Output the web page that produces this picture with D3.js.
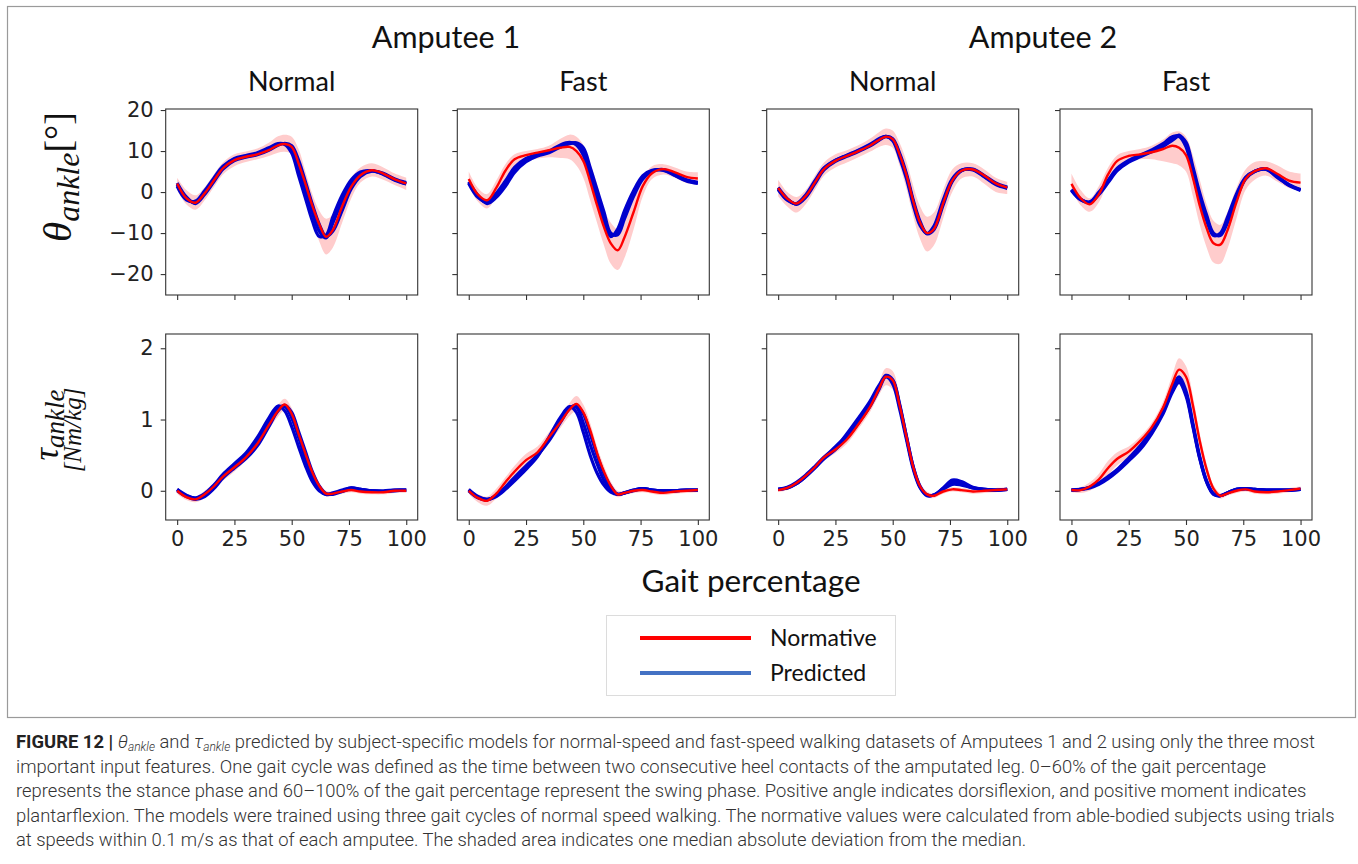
<!DOCTYPE html>
<html><head><meta charset="utf-8">
<script src="https://cdn.jsdelivr.net/npm/d3@7"></script>
<style>body{margin:0;background:#fff}svg{display:block}</style>
</head><body>
<svg id="c" width="1358" height="864"></svg>
<script>
// ---------- DATA ----------
const gait = [0,4,8,12,16,20,25,30,35,40,44,47,50,53,56,59,62,65,68,72,76,80,85,90,95,100];
const amputees = ["Amputee 1","Amputee 2"];
const speeds = ["Normal","Fast"];
const thetaTicks = [-20,-10,0,10,20];
const tauTicks = [0,1,2];
const gaitTicks = [0,25,50,75,100];
const legendLabels = ["Normative","Predicted"];

// Amputee 1, Normal, ankle angle
const th_A1N_norm = [2.1,-1.5,-2.6,-0.3,2.8,5.8,7.8,8.6,9.2,10.2,11.4,11.7,11.0,7.0,2.0,-3.3,-7.8,-10.9,-9.2,-3.5,1.3,4.1,5.3,4.5,3.1,2.1];
const th_A1N_hi   = [3.5,0.5,-0.8,1.2,4.3,7.2,9.2,9.9,10.6,12,13.6,14,13.5,10.5,5,-0.5,-4.5,-6.5,-5.5,-0.5,3.5,6,7,6,4.5,3.5];
const th_A1N_lo   = [0.5,-3,-4.3,-2,1.2,4.3,6.3,7.3,8,8.8,9.6,9.8,9.2,5,-1,-7,-12,-15.2,-13.5,-7.5,-1.5,2.3,3.8,3,1.7,0.5];
const th_A1N_p1   = [1.4,-1.9,-2.2,0.3,3.4,6.3,8.2,8.9,9.6,10.8,11.8,11.6,9.5,4.0,-1.5,-7,-10.8,-10.5,-6,-0.8,3.0,4.9,5.2,4.3,2.9,2.0];
const th_A1N_p2   = [1.8,-1.6,-2.5,-0.2,3.0,6.0,8.0,8.7,9.4,10.5,11.6,11.8,10.5,5.8,0.5,-5,-9.5,-11.2,-7.5,-2.2,2.2,4.5,5.2,4.4,3.0,2.0];
const th_A1N_p3   = [2.2,-1.2,-2.8,-0.6,2.5,5.6,7.7,8.5,9.1,10.2,11.4,11.9,11.3,7.8,2.5,-3,-7.8,-10.8,-9.5,-4.5,0.8,3.8,5.1,4.6,3.2,2.3];

// Amputee 1, Fast, ankle angle
const th_A1F_norm = [3.2,-0.6,-2.0,1.0,5.2,8.0,9.0,9.6,10.2,10.8,11.0,10.0,7.6,2.5,-3.2,-8.5,-12.5,-14.2,-11,-4.8,1.5,4.6,5.6,4.8,3.7,3.3];
const th_A1F_hi   = [5,1,-0.5,2.8,6.8,9.2,10,10.5,11.3,13,14,13.5,11.5,7,2,-4,-7.5,-9,-6.5,-1.5,3.5,6.3,6.8,6,5,4.8];
const th_A1F_lo   = [1.5,-2.3,-4,-1,3,6.2,7.5,8.2,8.5,8.3,8,6.5,3.5,-2,-7.5,-13,-17.5,-19,-16,-9,-1,3.2,4.3,3.5,2.2,1.8];
const th_A1F_p1   = [2.1,-1.3,-2.4,-0.3,2.7,6.0,8.2,9.2,10.0,11.5,12.1,11.5,9.0,3.8,-1.8,-7.3,-10.9,-9.0,-4.5,0.4,4.0,5.3,5.3,4.0,2.7,2.1];
const th_A1F_p2   = [2.3,-1.0,-2.6,-0.8,2.0,5.4,7.8,9.0,9.8,11.2,11.9,11.8,10.0,5.0,-0.5,-6.0,-10.6,-9.8,-5.5,-0.3,3.6,5.2,5.4,4.1,2.8,2.2];
const th_A1F_p3   = [2.5,-0.8,-2.8,-1.3,1.4,4.8,7.4,8.8,9.6,11.0,11.8,12.0,10.8,6.0,0.6,-4.8,-10.0,-10.4,-6.5,-1.0,3.2,5.0,5.5,4.3,3.0,2.4];

// Amputee 2, Normal, ankle angle
const th_A2N_norm = [1.0,-1.6,-2.8,-1.0,2.3,5.6,7.6,8.8,10.0,11.3,12.7,13.5,12.9,9.2,4.2,-2.3,-7.5,-10.0,-9.0,-2.8,2.8,5.2,5.5,4.0,2.1,1.1];
const th_A2N_hi   = [3,0,-1.2,0.5,4,7.2,9.2,10.2,11.4,13,14.6,15.5,15,12,7.5,1.5,-3.5,-6,-5,0.5,5.5,7,7,5.5,3.5,2.5];
const th_A2N_lo   = [-1,-3.5,-5,-3,0.5,4,6,7.2,8.5,9.8,11,11.5,10.8,6.5,0.8,-6,-11.5,-14.5,-13,-6.5,0,3.3,3.8,2,0,-0.5];
const th_A2N_p1   = [0.6,-2.0,-2.8,-0.7,2.7,5.9,7.8,9.0,10.2,11.6,13.0,13.6,12.5,8.4,3.3,-3.2,-8.2,-10.1,-8.3,-2.0,3.2,5.3,5.4,3.7,1.8,0.9];
const th_A2N_p2   = [0.8,-1.8,-2.9,-1.0,2.4,5.7,7.7,8.9,10.1,11.4,12.8,13.6,12.8,9.0,4.0,-2.5,-7.7,-10.1,-8.8,-2.6,2.9,5.3,5.5,3.8,2.0,1.0];
const th_A2N_p3   = [1.1,-1.6,-3.0,-1.3,2.0,5.4,7.5,8.7,9.9,11.2,12.6,13.5,13.0,9.5,4.5,-2.0,-7.2,-10.2,-9.2,-3.2,2.6,5.2,5.6,4.0,2.2,1.2];

// Amputee 2, Fast, ankle angle
const th_A2F_norm = [2.0,-1.5,-3.0,-0.5,4.3,7.6,8.8,9.2,9.7,10.5,11.3,10.8,9.0,3.5,-3.3,-8.8,-12.5,-12.8,-9.5,-2.5,3.2,5.1,5.8,4.4,2.8,2.3];
const th_A2F_hi   = [4.5,0.5,-1.5,1.5,6,9,10,10.5,11.3,12.8,14.5,14.8,13.5,9,3,-3,-7,-8,-5,1,5.5,7.3,7.5,6.5,5,4.5];
const th_A2F_lo   = [0.5,-3.2,-4.8,-2.5,2.5,6,7.5,8,8,7.5,7,6.5,5,-1,-8,-13.5,-17.2,-17.5,-14,-6.5,0.5,3,4,2.5,1,0.5];
const th_A2F_p1   = [0.4,-1.9,-2.4,0.0,2.9,5.8,7.7,9.0,10.3,11.8,13.5,13.5,11.0,4.5,-2.0,-7.0,-10.6,-10.0,-6.3,-0.5,3.6,5.1,5.5,3.5,1.6,0.4];
const th_A2F_p2   = [0.5,-1.8,-2.5,-0.3,2.6,5.5,7.5,8.8,10.0,11.4,13.0,13.9,11.7,5.5,-1.0,-6.2,-10.3,-10.3,-7.0,-1.0,3.4,5.1,5.6,3.6,1.7,0.5];
const th_A2F_p3   = [0.6,-1.7,-2.6,-0.6,2.3,5.2,7.3,8.6,9.8,11.1,12.6,13.6,12.2,6.2,-0.2,-5.6,-10.0,-10.6,-7.6,-1.5,3.2,5.0,5.7,3.8,1.8,0.6];

// Amputee 1, Normal, ankle moment
const tq_A1N_norm = [0.0,-0.09,-0.12,-0.05,0.06,0.2,0.33,0.47,0.66,0.92,1.12,1.21,1.08,0.8,0.52,0.26,0.07,-0.04,-0.04,-0.01,0.01,-0.01,-0.02,-0.02,0.0,0.0];
const tq_A1N_hi   = [0.04,-0.05,-0.08,0.0,0.11,0.26,0.39,0.52,0.71,0.98,1.2,1.29,1.16,0.87,0.58,0.31,0.11,0.0,-0.01,0.02,0.04,0.02,0.01,0.01,0.03,0.03];
const tq_A1N_lo   = [-0.04,-0.13,-0.16,-0.1,0.01,0.14,0.27,0.42,0.61,0.86,1.04,1.13,1.0,0.73,0.46,0.21,0.03,-0.08,-0.07,-0.04,-0.02,-0.04,-0.05,-0.05,-0.03,-0.03];
const tq_A1N_p1   = [0.02,-0.07,-0.1,-0.04,0.08,0.23,0.38,0.53,0.75,1.02,1.19,1.12,0.9,0.62,0.35,0.13,0.0,-0.05,-0.03,0.01,0.04,0.02,0.0,0.0,0.01,0.01];
const tq_A1N_p2   = [0.02,-0.06,-0.11,-0.06,0.06,0.21,0.35,0.49,0.69,0.96,1.17,1.18,1.02,0.75,0.45,0.2,0.03,-0.05,-0.04,0.0,0.04,0.02,0.0,-0.01,0.01,0.01];
const tq_A1N_p3   = [0.0,-0.08,-0.12,-0.08,0.03,0.18,0.32,0.45,0.63,0.9,1.12,1.2,1.1,0.83,0.55,0.27,0.07,-0.04,-0.05,-0.01,0.03,0.02,0.0,-0.01,0.0,0.01];

// Amputee 1, Fast, ankle moment
const tq_A1F_norm = [0.0,-0.1,-0.14,-0.04,0.12,0.27,0.43,0.54,0.75,0.96,1.14,1.22,1.1,0.85,0.53,0.27,0.07,-0.05,-0.03,0.0,0.01,-0.01,-0.03,-0.01,0.0,0.01];
const tq_A1F_hi   = [0.04,-0.05,-0.08,0.03,0.19,0.35,0.52,0.62,0.82,1.03,1.23,1.33,1.21,0.95,0.62,0.35,0.13,0.0,0.0,0.03,0.04,0.02,0.0,0.02,0.03,0.04];
const tq_A1F_lo   = [-0.04,-0.16,-0.21,-0.11,0.04,0.19,0.35,0.46,0.67,0.88,1.05,1.12,1.0,0.76,0.44,0.19,0.01,-0.09,-0.06,-0.03,-0.02,-0.04,-0.06,-0.04,-0.03,-0.02];
const tq_A1F_p1   = [0.02,-0.08,-0.12,-0.08,0.02,0.14,0.3,0.48,0.75,1.03,1.18,1.1,0.82,0.5,0.25,0.08,-0.02,-0.05,-0.03,0.01,0.03,0.01,0.0,0.0,0.01,0.01];
const tq_A1F_p2   = [0.01,-0.09,-0.12,-0.07,0.04,0.17,0.33,0.5,0.73,1.0,1.17,1.17,0.95,0.65,0.38,0.15,0.02,-0.05,-0.03,0.01,0.03,0.01,0.0,0.0,0.01,0.01];
const tq_A1F_p3   = [0.0,-0.1,-0.13,-0.06,0.05,0.19,0.35,0.5,0.7,0.96,1.15,1.2,1.08,0.8,0.5,0.24,0.06,-0.05,-0.03,0.0,0.03,0.01,0.0,0.0,0.01,0.01];

// Amputee 2, Normal, ankle moment
const tq_A2N_norm = [0.01,0.04,0.11,0.21,0.33,0.47,0.58,0.72,0.93,1.17,1.43,1.6,1.55,1.2,0.76,0.33,0.06,-0.05,-0.07,-0.01,0.02,0.01,-0.01,0.0,0.01,0.02];
const tq_A2N_hi   = [0.04,0.07,0.14,0.25,0.37,0.51,0.63,0.78,0.99,1.24,1.52,1.72,1.68,1.32,0.85,0.4,0.11,-0.01,-0.04,0.02,0.05,0.04,0.02,0.03,0.04,0.05];
const tq_A2N_lo   = [-0.02,0.01,0.08,0.17,0.29,0.42,0.53,0.66,0.87,1.1,1.34,1.48,1.42,1.08,0.67,0.26,0.01,-0.09,-0.1,-0.04,-0.01,-0.02,-0.04,-0.03,-0.02,-0.01];
const tq_A2N_p1   = [0.02,0.04,0.1,0.2,0.32,0.46,0.62,0.78,0.98,1.2,1.45,1.62,1.56,1.22,0.76,0.33,0.05,-0.06,-0.06,0.04,0.15,0.13,0.05,0.02,0.01,0.02];
const tq_A2N_p2   = [0.02,0.04,0.1,0.2,0.32,0.45,0.58,0.74,0.95,1.18,1.42,1.6,1.55,1.2,0.76,0.33,0.06,-0.06,-0.06,0.02,0.09,0.08,0.04,0.02,0.01,0.02];
const tq_A2N_p3   = [0.02,0.05,0.12,0.22,0.34,0.47,0.6,0.8,1.02,1.25,1.48,1.6,1.5,1.15,0.72,0.3,0.04,-0.07,-0.06,0.03,0.12,0.1,0.04,0.02,0.01,0.02];

// Amputee 2, Fast, ankle moment
const tq_A2F_norm = [0.01,0.01,0.06,0.16,0.32,0.45,0.55,0.7,0.89,1.17,1.5,1.7,1.6,1.2,0.7,0.3,0.03,-0.07,-0.04,0.0,0.02,-0.01,-0.02,-0.01,0.01,0.03];
const tq_A2F_hi   = [0.04,0.05,0.12,0.24,0.42,0.54,0.62,0.76,0.95,1.25,1.62,1.86,1.75,1.33,0.8,0.38,0.08,-0.03,-0.01,0.03,0.05,0.02,0.01,0.02,0.04,0.06];
const tq_A2F_lo   = [-0.02,-0.03,0.0,0.08,0.22,0.36,0.47,0.64,0.83,1.09,1.38,1.54,1.45,1.07,0.6,0.22,-0.02,-0.11,-0.07,-0.03,-0.01,-0.04,-0.05,-0.04,-0.02,0.0];
const tq_A2F_p1   = [0.01,0.02,0.05,0.11,0.2,0.3,0.46,0.63,0.85,1.14,1.45,1.6,1.4,0.95,0.48,0.14,-0.04,-0.07,-0.03,0.02,0.03,0.02,0.01,0.01,0.01,0.02];
const tq_A2F_p2   = [0.01,0.02,0.04,0.09,0.17,0.27,0.42,0.58,0.8,1.08,1.38,1.52,1.33,0.9,0.45,0.12,-0.05,-0.07,-0.03,0.02,0.03,0.02,0.01,0.01,0.01,0.02];
const tq_A2F_p3   = [0.01,0.02,0.05,0.1,0.19,0.29,0.44,0.61,0.83,1.11,1.42,1.56,1.37,0.92,0.46,0.13,-0.04,-0.07,-0.03,0.02,0.03,0.02,0.01,0.01,0.01,0.02];

// ---------- LAYOUT ----------
const svg = d3.select("#c");
const W = 252, H = 186;
const colLeft = [165.7, 457.3, 766.7, 1060];
const rowTop = [109, 334];
const RED = "#ff0000", BLUE = "#0000cd", BAND = "#ffcccc", AX = "#333";

const panels = [
  {r:0,c:0,norm:th_A1N_norm,hi:th_A1N_hi,lo:th_A1N_lo,pred:[th_A1N_p1,th_A1N_p2,th_A1N_p3]},
  {r:0,c:1,norm:th_A1F_norm,hi:th_A1F_hi,lo:th_A1F_lo,pred:[th_A1F_p1,th_A1F_p2,th_A1F_p3]},
  {r:0,c:2,norm:th_A2N_norm,hi:th_A2N_hi,lo:th_A2N_lo,pred:[th_A2N_p1,th_A2N_p2,th_A2N_p3]},
  {r:0,c:3,norm:th_A2F_norm,hi:th_A2F_hi,lo:th_A2F_lo,pred:[th_A2F_p1,th_A2F_p2,th_A2F_p3]},
  {r:1,c:0,norm:tq_A1N_norm,hi:tq_A1N_hi,lo:tq_A1N_lo,pred:[tq_A1N_p1,tq_A1N_p2,tq_A1N_p3]},
  {r:1,c:1,norm:tq_A1F_norm,hi:tq_A1F_hi,lo:tq_A1F_lo,pred:[tq_A1F_p1,tq_A1F_p2,tq_A1F_p3]},
  {r:1,c:2,norm:tq_A2N_norm,hi:tq_A2N_hi,lo:tq_A2N_lo,pred:[tq_A2N_p1,tq_A2N_p2,tq_A2N_p3]},
  {r:1,c:3,norm:tq_A2F_norm,hi:tq_A2F_hi,lo:tq_A2F_lo,pred:[tq_A2F_p1,tq_A2F_p2,tq_A2F_p3]}
];
const yDomains = [[-25.1, 20.25], [-0.41, 2.2]];
const yTickSets = [thetaTicks, tauTicks];

// outer frame
svg.append("rect").attr("x",7.5).attr("y",6.5).attr("width",1348).attr("height",711)
  .attr("fill","none").attr("stroke","#9a9a9a").attr("stroke-width",1.2);

const curve = d3.curveCatmullRom.alpha(0.5);
const fmt = d => (d < 0 ? "\u2212" + Math.abs(d) : String(d));

panels.forEach(p => {
  const x0 = colLeft[p.c], y0 = rowTop[p.r];
  const x = d3.scaleLinear().domain([-5,105]).range([x0, x0 + W]);
  const y = d3.scaleLinear().domain(yDomains[p.r]).range([y0 + H, y0]);
  const g = svg.append("g");
  const idx = d3.range(gait.length);
  const area = d3.area().x(i => x(gait[i])).y0(i => y(p.lo[i])).y1(i => y(p.hi[i])).curve(curve);
  g.append("path").attr("d", area(idx)).attr("fill", BAND).attr("stroke","none");
  p.pred.forEach(arr => {
    const line = d3.line().x(i => x(gait[i])).y(i => y(arr[i])).curve(curve);
    g.append("path").attr("d", line(idx)).attr("fill","none").attr("stroke",BLUE)
      .attr("stroke-width",3.2).attr("stroke-linejoin","round");
  });
  const nline = d3.line().x(i => x(gait[i])).y(i => y(p.norm[i])).curve(curve);
  g.append("path").attr("d", nline(idx)).attr("fill","none").attr("stroke",RED).attr("stroke-width",2.4);

  // frame
  g.append("rect").attr("x",x0).attr("y",y0).attr("width",W).attr("height",H)
    .attr("fill","none").attr("stroke",AX).attr("stroke-width",1.1);

  // x axis
  const xa = d3.axisBottom(x).tickValues(gaitTicks).tickSize(5).tickPadding(6)
    .tickFormat(p.r === 1 ? d => d : () => "");
  const gx = svg.append("g").attr("transform",`translate(0,${y0 + H})`).call(xa);
  gx.select(".domain").remove();
  gx.selectAll("line").attr("stroke",AX).attr("stroke-width",1.1);
  gx.selectAll("text").attr("fill","#222").style("font-family","DejaVu Sans").style("font-size","21px");

  // y axis
  const ya = d3.axisLeft(y).tickValues(yTickSets[p.r]).tickSize(5).tickPadding(7)
    .tickFormat(p.c === 0 ? fmt : () => "");
  const gy = svg.append("g").attr("transform",`translate(${x0},0)`).call(ya);
  gy.select(".domain").remove();
  gy.selectAll("line").attr("stroke",AX).attr("stroke-width",1.1);
  gy.selectAll("text").attr("fill","#222").style("font-family","DejaVu Sans").style("font-size","21px");
});

// titles
const titleFont = "Lato, 'Open Sans', sans-serif";
const ampCenters = [446, 1043];
amputees.forEach((a, i) => {
  svg.append("text").attr("x", ampCenters[i]).attr("y", 48).attr("text-anchor","middle")
    .style("font-family", titleFont).style("font-size","30.5px").attr("fill","#111").text(a);
});
colLeft.forEach((l, c) => {
  svg.append("text").attr("x", l + W/2).attr("y", 91).attr("text-anchor","middle")
    .style("font-family", titleFont).style("font-size","27px").attr("fill","#111").text(speeds[c % 2]);
});
svg.append("text").attr("x", 751).attr("y", 592).attr("text-anchor","middle")
  .style("font-family", titleFont).style("font-size","31.5px").attr("fill","#111").text("Gait percentage");

// y labels
const serif = "'Liberation Serif', 'DejaVu Serif', serif";
const yl1 = svg.append("text").attr("transform","translate(71,177) rotate(-90)").attr("text-anchor","middle")
  .style("font-family", serif).style("font-style","italic").attr("fill","#111");
yl1.append("tspan").style("font-size","41px").text("\u03b8");
yl1.append("tspan").style("font-size","32px").attr("dy",8).text("ankle");
yl1.append("tspan").style("font-size","38px").style("font-style","normal").attr("dy",-8).text("[\u00b0]");

const yl2 = svg.append("text").attr("transform","translate(58,425) rotate(-90)").attr("text-anchor","middle")
  .style("font-family", serif).style("font-style","italic").attr("fill","#111");
yl2.append("tspan").style("font-size","35px").text("\u03c4");
yl2.append("tspan").style("font-size","27px").attr("dy",6).text("ankle");
svg.append("text").attr("transform","translate(81,430) rotate(-90)").attr("text-anchor","middle")
  .style("font-family", serif).style("font-style","italic").style("font-size","25px").attr("fill","#111")
  .text("[Nm/kg]");

// legend
const lg = svg.append("g");
lg.append("rect").attr("x",606.5).attr("y",615.5).attr("width",289).attr("height",80)
  .attr("fill","#fff").attr("stroke","#dcdcdc").attr("stroke-width",1);
[RED, "#4472c4"].forEach((col, i) => {
  const yy = 638 + i * 35;
  lg.append("line").attr("x1",640).attr("x2",751).attr("y1",yy).attr("y2",yy)
    .attr("stroke",col).attr("stroke-width",4);
  lg.append("text").attr("x",770).attr("y",yy + 8).style("font-family",titleFont).style("font-size","23px")
    .attr("fill","#111").text(legendLabels[i]);
});

// caption
const capFont = "Roboto, 'Liberation Sans', sans-serif";
const cap = svg.append("g").style("font-family", capFont).style("font-size","18.4px").attr("fill","#333");
const lines = [
  null,
  "important input features. One gait cycle was defined as the time between two consecutive heel contacts of the amputated leg. 0\u201360% of the gait percentage",
  "represents the stance phase and 60\u2013100% of the gait percentage represent the swing phase. Positive angle indicates dorsiflexion, and positive moment indicates",
  "plantarflexion. The models were trained using three gait cycles of normal speed walking. The normative values were calculated from able-bodied subjects using trials",
  "at speeds within 0.1 m/s as that of each amputee. The shaded area indicates one median absolute deviation from the median."
];
const baseY = 748, lh = 24.5;
const t1 = cap.append("text").attr("x",16).attr("y",baseY).style("font-weight",300);
t1.append("tspan").style("font-weight",700).attr("fill","#222").text("FIGURE 12 | ");
t1.append("tspan").style("font-style","italic").text("\u03b8");
t1.append("tspan").style("font-style","italic").style("font-size","12px").attr("dy",3).text("ankle");
t1.append("tspan").attr("dy",-3).text(" and ");
t1.append("tspan").style("font-style","italic").text("\u03c4");
t1.append("tspan").style("font-style","italic").style("font-size","12px").attr("dy",3).text("ankle");
t1.append("tspan").attr("dy",-3).text(" predicted by subject-specific models for normal-speed and fast-speed walking datasets of Amputees 1 and 2 using only the three most");
lines.forEach((s, i) => {
  if (!s) return;
  cap.append("text").attr("x",16).attr("y",baseY + i * lh).style("font-weight",300).text(s);
});
</script>
</body></html>
